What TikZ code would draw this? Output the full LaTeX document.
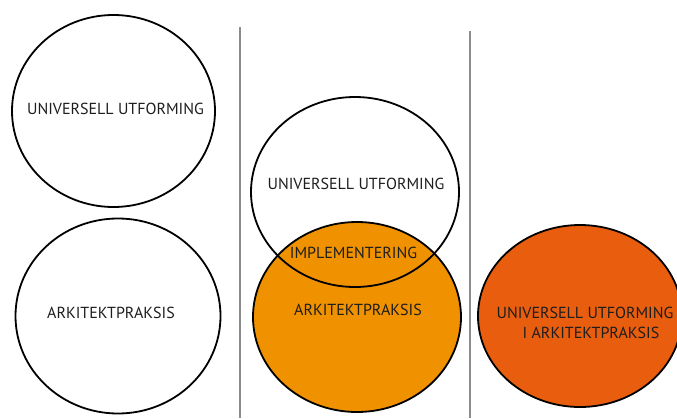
\documentclass[tikz,border=0pt]{standalone}
\usepackage{fontspec}
\setmainfont{PT Sans}
\usetikzlibrary{shapes.geometric}
\definecolor{midorange}{RGB}{240,145,0}
\definecolor{deeporange}{RGB}{232,93,14}
\definecolor{divider}{RGB}{140,140,140}
\definecolor{txt}{RGB}{30,30,30}
\tikzset{
  circ/.style={ellipse, draw=black, line width=1.8pt, inner sep=0pt},
  lbl/.style={text=txt, font=\fontsize{16}{20}\selectfont, inner sep=0pt, align=center},
  divline/.style={draw=divider, line width=1.2pt}
}
\begin{document}
\begin{tikzpicture}[x=1pt,y=-1pt]
\useasboundingbox (0,0) rectangle (677,418);
\clip (0,0) rectangle (677,418);
\coordinate (d1top) at (240,27);
\coordinate (d1bot) at (240,418);
\coordinate (d2top) at (470,31);
\coordinate (d2bot) at (470,418);
\draw[divline] (d1top) -- (d1bot);
\draw[divline] (d2top) -- (d2bot);
% left column
\node[circ, minimum width=203pt, minimum height=192pt] (e1) at (113.5,111) {};
\node[circ, minimum width=205pt, minimum height=195pt] (e2) at (118,316) {};
\node[lbl] (t1) at (115.5,109) {UNIVERSELL UTFORMING};
\node[lbl] (t2) at (111,313) {ARKITEKTPRAKSIS};
% middle column
\node[circ, fill=midorange, minimum width=208pt, minimum height=190pt] (e4) at (357,317) {};
\node[circ, minimum width=208pt, minimum height=190pt] (e3) at (355,192) {};
\node[lbl] (t3) at (356,184) {UNIVERSELL UTFORMING};
\node[lbl] (t4) at (353.5,253) {IMPLEMENTERING};
\node[lbl] (t5) at (358,310) {ARKITEKTPRAKSIS};
% right column
\node[circ, fill=deeporange, minimum width=204pt, minimum height=182pt] (e5) at (580,316) {};
\node[lbl] (t6) at (585,323) {UNIVERSELL UTFORMING\\\hspace*{12pt}I ARKITEKTPRAKSIS};
\end{tikzpicture}
\end{document}
